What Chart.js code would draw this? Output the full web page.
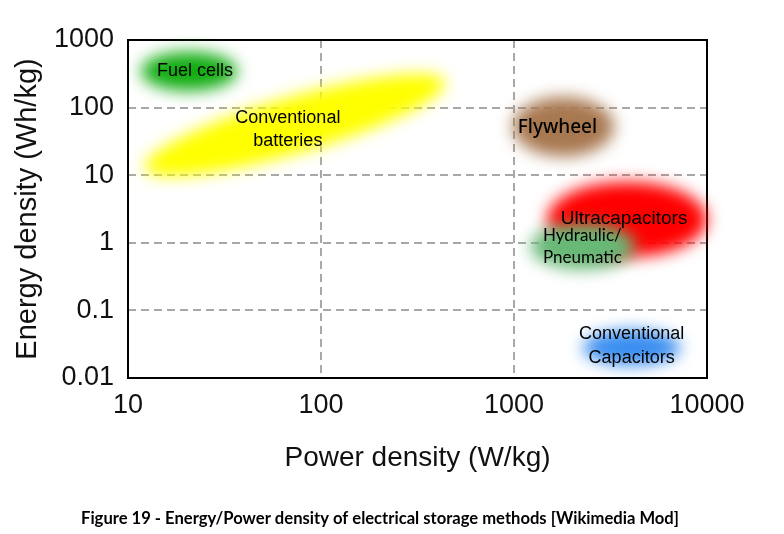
<!DOCTYPE html>
<html>
<head>
<meta charset="utf-8">
<script src="https://cdn.jsdelivr.net/npm/chart.js@4/dist/chart.umd.min.js"></script>
<style>
  html, body { margin: 0; padding: 0; background: #fff; }
</style>
</head>
<body>
<canvas id="chart" width="784" height="534"></canvas>
<script>
// DATA
const technologies = ['Fuel cells', 'Conventional batteries', 'Flywheel', 'Ultracapacitors', 'Hydraulic/Pneumatic', 'Conventional Capacitors']
const powerMin  = [11, 11.5, 930, 1400, 1150, 2150]      // W/kg
const powerMax  = [39, 466, 3500, 10600, 4500, 7700]
const energyMin = [150, 12, 16, 0.52, 0.34, 0.013]     // Wh/kg
const energyMax = [790, 256, 170, 9.5, 2.3, 0.061]
const xTicks = [10, 100, 1000, 10000]
const yTicks = [0.01, 0.1, 1, 10, 100, 1000]
const caption = 'Figure 19 - Energy/Power density of electrical storage methods [Wikimedia Mod]'


// STYLES (one per technology)
const arial = '"Liberation Sans", Arial, sans-serif'
const styles = [
    { color: '#12ad12', lines: ['Fuel cells'], font: '18px ' + arial, dx: 6, dy: 0 },
    { color: '#ffff00', lines: ['Conventional', 'batteries'], font: '18px ' + arial, dx: -7, dy: 5, lh: 23, tilt: true, thick: 28 },
    { color: '#a87850', lines: ['Flywheel'], font: '500 19px "Noto Sans", sans-serif', dx: -6, dy: 1 },
    { color: '#ff0000', lines: ['Ultracapacitors'], font: '19px ' + arial, dx: -3, dy: -1 },
    { color: '#68b876', lines: ['Hydraulic/', 'Pneumatic'], font: '17px Lato, sans-serif', align: 'left', x0: 543, dy: 0, lh: 22 },
    { color: '#3a8ef0', lines: ['Conventional', 'Capacitors'], font: '18px ' + arial, dx: 0, dy: -2, lh: 24 },
]


// UTILS
const logLabel = (v) => String(v)
const decadesOnly = (list) => (scale) => { scale.ticks = list.map(value => ({ value })) }
const edgeless = (lo, hi) => (ctx) => (ctx.tick && (ctx.tick.value === lo || ctx.tick.value === hi)) ? 'rgba(0,0,0,0)' : '#a8a8a8'

const geom = (chart, i) => {
    const x = chart.scales.x, y = chart.scales.y
    const x1 = x.getPixelForValue(powerMin[i]), x2 = x.getPixelForValue(powerMax[i])
    const y1 = y.getPixelForValue(energyMin[i]), y2 = y.getPixelForValue(energyMax[i])
    return { x1, x2, y1, y2, cx: (x1 + x2) / 2, cy: (y1 + y2) / 2 }
}


// REGION PLUGIN - blobs sit above the grid, labels above everything
const regions = {
    id: 'regions',
    beforeDatasetsDraw(chart) {
        const { ctx, chartArea: a } = chart
        ctx.save()
        ctx.strokeStyle = '#000'
        ctx.lineWidth = 2
        ctx.strokeRect(a.left, a.top, a.right - a.left, a.bottom - a.top)

        const shrink = 5
        styles.forEach((s, i) => {
            const g = geom(chart, i)
            ctx.save()
            ctx.filter = 'blur(8px)'
            ctx.fillStyle = s.color
            ctx.beginPath()
            if (s.tilt) {
                const len = Math.hypot(g.x2 - g.x1, g.y2 - g.y1) / 2 - shrink
                const ang = Math.atan2(g.y2 - g.y1, g.x2 - g.x1)
                ctx.ellipse(g.cx, g.cy, len, s.thick, ang, 0, Math.PI * 2)
            } else {
                ctx.ellipse(g.cx, g.cy, (g.x2 - g.x1) / 2 - shrink, Math.abs(g.y1 - g.y2) / 2 - shrink, 0, 0, Math.PI * 2)
            }
            ctx.fill()
            ctx.restore()
        })
        ctx.restore()
    },
    afterDraw(chart) {
        const { ctx } = chart
        ctx.save()
        ctx.fillStyle = '#000'
        ctx.textBaseline = 'middle'
        styles.forEach((s, i) => {
            const g = geom(chart, i)
            const lh = s.lh || 22
            ctx.font = s.font
            ctx.textAlign = s.align || 'center'
            const x = s.align === 'left' ? s.x0 : g.cx + (s.dx || 0)
            const top = g.cy + (s.dy || 0) - (s.lines.length - 1) * lh / 2
            s.lines.forEach((t, k) => ctx.fillText(t, x, top + k * lh))
        })
        // caption
        ctx.font = 'bold 16.6px Lato, sans-serif'
        ctx.textAlign = 'center'
        ctx.fillText(caption, 380, 519, 602)
        ctx.restore()
    }
}


// MAIN
const ctx = document.getElementById('chart').getContext('2d')
window.chart = new Chart(ctx, {
    type: 'scatter',
    data: {
        datasets: [{
            label: 'regions',
            data: technologies.map((t, i) => ({ x: Math.sqrt(powerMin[i] * powerMax[i]), y: Math.sqrt(energyMin[i] * energyMax[i]) })),
            pointRadius: 0,
        }]
    },
    options: {
        responsive: false,
        animation: false,
        layout: { padding: { top: 40, right: 77, left: 0, bottom: 46 } },
        plugins: { legend: { display: false }, tooltip: { enabled: false } },
        scales: {
            x: {
                type: 'logarithmic', min: 10, max: 10000,
                afterBuildTicks: decadesOnly(xTicks),
                afterFit: (s) => { s.height = 110 },
                grid: { color: edgeless(10, 10000), lineWidth: 2, drawTicks: false },
                border: { display: false, dash: [8, 5] },
                ticks: { callback: logLabel, font: { family: arial, size: 27 }, color: '#111', padding: 11, maxRotation: 0 },
                title: { display: true, text: 'Power density (W/kg)', font: { family: arial, size: 28 }, color: '#111', padding: { top: 0, bottom: 13 } },
            },
            y: {
                type: 'logarithmic', min: 0.01, max: 1000,
                afterBuildTicks: decadesOnly(yTicks),
                afterFit: (s) => { s.width = 128 },
                grid: { color: edgeless(0.01, 1000), lineWidth: 2, drawTicks: false },
                border: { display: false, dash: [8, 5] },
                ticks: { callback: logLabel, font: { family: arial, size: 27 }, color: '#111', padding: 14 },
                title: { display: true, text: 'Energy density (Wh/kg)', font: { family: arial, size: 29 }, color: '#111', padding: { top: 11, bottom: 0 } },
            }
        }
    },
    plugins: [regions]
})
</script>
</body>
</html>
